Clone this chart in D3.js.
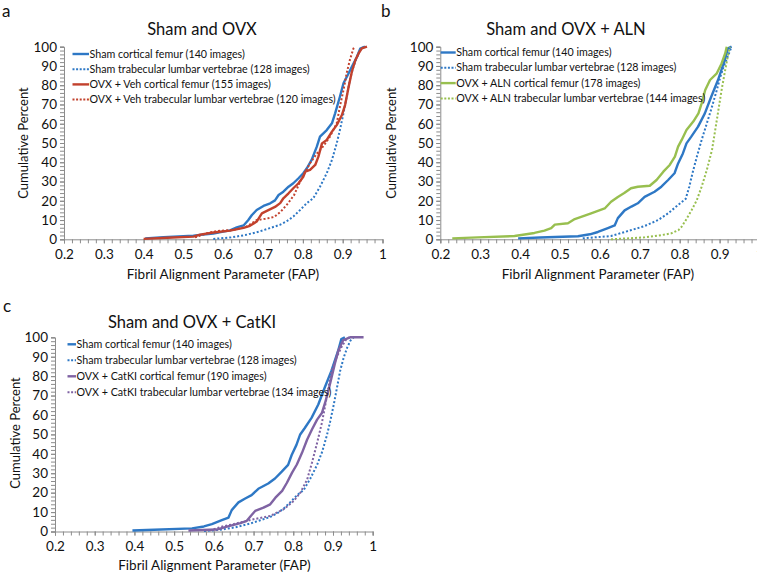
<!DOCTYPE html>
<html>
  <head>
    <meta charset="utf-8">
    <title>FAP cumulative distributions</title>
    <script src="https://d3js.org/d3.v7.min.js"></script>
    <style>
      body { margin: 0; background: #fff; }
      svg { display: block; font-family: Lato, "DejaVu Sans", sans-serif; }
    </style>
  </head>
  <body>
    <div class="figure"></div>
    <script>
      // ---- data: [FAP, cumulative percent] ----
      // the sham curves are drawn slightly differently in each panel:
      // panel a uses the *A arrays, panels b and c the *B cortical curve
      var shamCorticalA = [[0.404,0.5],[0.45,1.1],[0.525,1.9],[0.575,3.0],[0.60,4.0],[0.617,4.6],[0.634,6.2],[0.651,7.2],[0.663,10],[0.672,12.6],[0.684,15.2],[0.701,17.3],[0.718,18.7],[0.730,20.2],[0.739,23],[0.751,24.7],[0.764,27.3],[0.776,29.1],[0.789,31.7],[0.801,34.3],[0.810,36.9],[0.822,41.2],[0.835,48.1],[0.843,53.3],[0.860,56.7],[0.873,60.2],[0.881,65.4],[0.893,74],[0.902,81],[0.915,86.2],[0.923,89.6],[0.936,94.8],[0.944,99],[0.956,100]];
      var shamTrabecularA = [[0.575,0.2],[0.62,1.0],[0.655,2.2],[0.69,4],[0.717,5.8],[0.742,7.5],[0.759,9.3],[0.776,11.8],[0.793,15.2],[0.81,18.8],[0.826,21.3],[0.843,27.3],[0.86,34.3],[0.873,41.2],[0.885,49.8],[0.893,56.7],[0.902,65.4],[0.91,74],[0.918,82.7],[0.927,89.6],[0.936,94.8],[0.944,98.3],[0.952,100]];
      var shamCorticalB = [[0.395,0.5],[0.45,0.9],[0.545,1.6],[0.575,2.6],[0.595,3.8],[0.62,5.8],[0.637,7.2],[0.645,11],[0.662,15],[0.679,17],[0.695,18.7],[0.712,22],[0.737,24.7],[0.754,27.3],[0.771,30.8],[0.787,34.3],[0.796,39.4],[0.808,44.6],[0.817,49.8],[0.829,53.3],[0.846,58.5],[0.863,65.4],[0.879,74],[0.896,82.7],[0.913,93.1],[0.921,99.1],[0.93,100]];
      var shamTrabecularB = [[0.557,0.5],[0.628,1.7],[0.679,4.8],[0.712,6.9],[0.746,10],[0.771,13.5],[0.796,17.8],[0.815,21],[0.824,27.3],[0.832,34.3],[0.843,42.9],[0.855,51.6],[0.868,60.2],[0.881,68.9],[0.893,77.5],[0.902,84.4],[0.91,89.6],[0.922,95.7],[0.93,100]];
      var ovxVehCortical = [[0.40,0.2],[0.46,0.8],[0.525,1.4],[0.542,2.4],[0.575,3.5],[0.617,4.5],[0.651,5.9],[0.667,7],[0.684,9.2],[0.697,13.5],[0.712,15],[0.73,16.8],[0.743,18.8],[0.751,21.3],[0.764,23.9],[0.776,26.5],[0.789,29.1],[0.801,32.5],[0.806,35.1],[0.818,36],[0.831,38.6],[0.839,42.9],[0.848,49.8],[0.86,51.6],[0.873,55.9],[0.885,59.3],[0.898,64.5],[0.906,69.7],[0.915,79.2],[0.923,87],[0.932,93.1],[0.94,96.5],[0.948,99.1],[0.961,100]];
      var ovxVehTrabecular = [[0.529,1],[0.558,3.1],[0.584,4.3],[0.625,4.8],[0.659,6.6],[0.684,10],[0.705,10.6],[0.728,11.6],[0.745,14.5],[0.762,18.5],[0.778,23],[0.79,28.5],[0.803,34],[0.818,39.5],[0.835,44.5],[0.852,48.5],[0.868,53.3],[0.885,60.2],[0.893,68.9],[0.902,77.5],[0.91,86.2],[0.918,93.1],[0.927,99.1],[0.931,100]];
      var alnCortical = [[0.23,0.5],[0.294,1],[0.386,1.7],[0.403,2.2],[0.436,3.3],[0.461,4.5],[0.478,5.8],[0.487,7.6],[0.52,8.3],[0.537,10.5],[0.578,13.5],[0.612,16],[0.628,19.5],[0.645,22],[0.661,24],[0.678,26.5],[0.695,27.3],[0.725,27.8],[0.742,30.8],[0.759,35.1],[0.775,38.6],[0.788,42.9],[0.796,48.1],[0.805,51.6],[0.817,56.7],[0.834,61.1],[0.847,65.4],[0.855,70.6],[0.864,77.5],[0.876,82.7],[0.893,86.2],[0.905,91.3],[0.914,96.5],[0.918,100]];
      var alnTrabecular = [[0.628,0],[0.712,1],[0.755,2.2],[0.779,3.1],[0.797,4.8],[0.805,6.6],[0.814,9.5],[0.83,15.2],[0.843,20.4],[0.855,27.3],[0.868,36],[0.881,46.4],[0.889,56.7],[0.897,67.1],[0.905,77.5],[0.914,87.9],[0.922,96.5],[0.926,100]];
      var catkCortical = [[0.536,0.5],[0.607,1],[0.633,2.5],[0.667,4.3],[0.683,5.5],[0.693,8],[0.704,10.6],[0.725,12.3],[0.742,14],[0.755,17.4],[0.772,20.9],[0.784,25.1],[0.797,30.3],[0.809,34.5],[0.822,40.5],[0.835,47.4],[0.847,52.5],[0.86,57.6],[0.872,61],[0.88,66.2],[0.889,73],[0.897,79.8],[0.905,86.7],[0.914,93.5],[0.926,98.6],[0.943,100],[0.977,100]];
      var catkTrabecular = [[0.59,0.5],[0.62,2.5],[0.649,3.8],[0.7,6.3],[0.742,8],[0.776,11.5],[0.801,15.7],[0.818,20],[0.835,26.8],[0.847,35.4],[0.86,45.6],[0.872,55.9],[0.88,64.4],[0.889,74.7],[0.897,83.2],[0.91,90.1],[0.922,95.2],[0.935,99.5],[0.943,100]];

      var xTicks = [0.2, 0.3, 0.4, 0.5, 0.6, 0.7, 0.8, 0.9, 1];
      var yTicks = [0, 10, 20, 30, 40, 50, 60, 70, 80, 90, 100];
      var titles = ["Sham and OVX", "Sham and OVX + ALN", "Sham and OVX + CatKI"];
      var panelLetters = ["a", "b", "c"];
      var legendNames = [
        ["Sham cortical femur (140 images)", "Sham trabecular lumbar vertebrae (128 images)", "OVX + Veh cortical femur (155 images)", "OVX + Veh trabecular lumbar vertebrae (120 images)"],
        ["Sham cortical femur (140 images)", "Sham trabecular lumbar vertebrae (128 images)", "OVX + ALN cortical femur (178 images)", "OVX + ALN trabecular lumbar vertebrae (144 images)"],
        ["Sham cortical femur (140 images)", "Sham trabecular lumbar vertebrae (128 images)", "OVX + CatKI cortical femur (190 images)", "OVX + CatKI trabecular lumbar vertebrae (134 images)"]
      ];

      var blue = "#2e78c5", red = "#c2412d", green = "#98bf4f", purple = "#7f63a3";
      var ink = "#111";

      var svg = d3.select(".figure").append("svg")
        .attr("width", 757)
        .attr("height", 575);

      function drawPanel(p) {
        var x = d3.scaleLinear().domain([0.2, 1]).range([p.x0, p.x1]);
        var y = d3.scaleLinear().domain([0, 100]).range([p.y0, p.y1]);
        var g = svg.append("g");

        // minor ticks first, majors on top
        g.append("g")
          .attr("transform", "translate(0," + p.y0 + ")")
          .call(d3.axisBottom(x).tickValues(d3.range(0.2, 1.001, 0.02)).tickSize(4).tickFormat(""))
          .call(s => s.select(".domain").remove());
        g.append("g")
          .attr("transform", "translate(" + p.x0 + ",0)")
          .call(d3.axisLeft(y).tickValues(d3.range(0, 100.1, 2)).tickSize(4).tickFormat(""))
          .call(s => s.select(".domain").remove());

        var xAxis = g.append("g")
          .attr("transform", "translate(0," + p.y0 + ")")
          .call(d3.axisBottom(x).tickValues(xTicks).tickSize(4).tickPadding(6).tickFormat(d3.format("")));
        var yAxis = g.append("g")
          .attr("transform", "translate(" + p.x0 + ",0)")
          .call(d3.axisLeft(y).tickValues(yTicks).tickSize(4).tickPadding(3));
        [xAxis, yAxis].forEach(a => {
          a.selectAll("text").style("font-size", "13.5px").style("font-family", "Lato, sans-serif").attr("fill", ink);
        });
        g.selectAll(".domain, .tick line").attr("stroke", "#8c8c8c");

        var line = d3.line().x(d => x(d[0])).y(d => y(d[1]));
        p.series.forEach(s => {
          g.append("path")
            .datum(s.data)
            .attr("fill", "none")
            .attr("stroke", s.color)
            .attr("stroke-width", s.dotted ? 2 : 2.4)
            .attr("stroke-dasharray", s.dotted ? "2,2" : null)
            .attr("stroke-linejoin", "round")
            .attr("d", line);
        });

        // legend
        p.series.forEach((s, i) => {
          var ly = p.legY + i * p.legStep;
          g.append("line")
            .attr("x1", p.legX).attr("x2", p.legX + p.legLen)
            .attr("y1", ly).attr("y2", ly)
            .attr("stroke", s.color)
            .attr("stroke-width", s.dotted ? 2 : 2.4)
            .attr("stroke-dasharray", s.dotted ? "2,1.6" : null);
          g.append("text")
            .attr("x", p.legX + p.legLen + 0.5)
            .attr("y", ly)
            .attr("dy", "0.34em")
            .style("font-size", "10.7px")
            .attr("fill", ink)
            .text(s.name);
        });

        g.append("text")
          .attr("x", p.titleX).attr("y", p.titleY)
          .attr("text-anchor", "middle")
          .style("font-size", "16.5px")
          .attr("fill", ink)
          .text(p.title);
        g.append("text")
          .attr("x", p.letterX).attr("y", p.letterY)
          .style("font-size", "17px")
          .attr("fill", ink)
          .text(p.letter);
        g.append("text")
          .attr("transform", "translate(" + p.yLabX + "," + p.yLabY + ") rotate(-90)")
          .attr("text-anchor", "middle")
          .style("font-size", "13px")
          .attr("fill", ink)
          .text("Cumulative Percent");
        g.append("text")
          .attr("x", p.xLabX).attr("y", p.xLabY)
          .attr("text-anchor", "middle")
          .style("font-size", "13.5px")
          .attr("fill", ink)
          .text("Fibril Alignment Parameter (FAP)");
      }

      var panels = [
        { x0: 64, x1: 382.5, y0: 239.3, y1: 46.7, titleX: 202, titleY: 35, letter: panelLetters[0], letterX: 2, letterY: 17,
          yLabX: 28, yLabY: 143, xLabX: 223, xLabY: 279, legX: 72.5, legLen: 16.5, legY: 54, legStep: 15.2, title: titles[0],
          series: [
            { data: shamCorticalA, color: blue, dotted: false, name: legendNames[0][0] },
            { data: shamTrabecularA, color: blue, dotted: true, name: legendNames[0][1] },
            { data: ovxVehCortical, color: red, dotted: false, name: legendNames[0][2] },
            { data: ovxVehTrabecular, color: red, dotted: true, name: legendNames[0][3] }
          ] },
        { x0: 440.3, x1: 759.5, y0: 239.3, y1: 46.7, titleX: 566, titleY: 35, letter: panelLetters[1], letterX: 381, letterY: 17,
          yLabX: 396, yLabY: 143, xLabX: 598, xLabY: 279, legX: 440.7, legLen: 15, legY: 52.5, legStep: 15.3, title: titles[1],
          series: [
            { data: shamCorticalB, color: blue, dotted: false, name: legendNames[1][0] },
            { data: shamTrabecularB, color: blue, dotted: true, name: legendNames[1][1] },
            { data: alnCortical, color: green, dotted: false, name: legendNames[1][2] },
            { data: alnTrabecular, color: green, dotted: true, name: legendNames[1][3] }
          ] },
        { x0: 55, x1: 372.7, y0: 531.5, y1: 337.3, titleX: 192, titleY: 328, letter: panelLetters[2], letterX: 3, letterY: 312,
          yLabX: 20, yLabY: 433, xLabX: 214.5, xLabY: 570, legX: 67.5, legLen: 8.5, legY: 344.3, legStep: 16, title: titles[2],
          series: [
            { data: shamCorticalB, color: blue, dotted: false, name: legendNames[2][0] },
            { data: shamTrabecularA, color: blue, dotted: true, name: legendNames[2][1] },
            { data: catkCortical, color: purple, dotted: false, name: legendNames[2][2] },
            { data: catkTrabecular, color: purple, dotted: true, name: legendNames[2][3] }
          ] }
      ];

      panels.forEach(drawPanel);
    </script>
  </body>
</html>
